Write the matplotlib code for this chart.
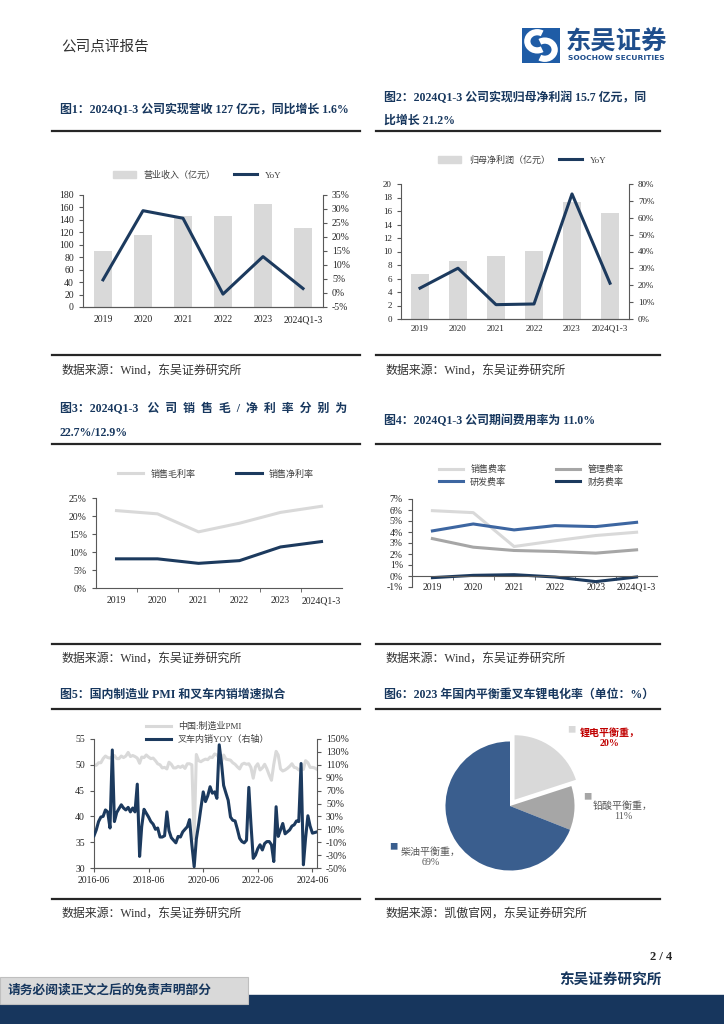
import numpy as np
import pandas as pd
import matplotlib.pyplot as plt
import matplotlib.dates as mdates
from matplotlib.patches import Rectangle, Arc
from matplotlib.lines import Line2D
from matplotlib.ticker import FuncFormatter

plt.rcParams['font.family'] = ['Liberation Serif', 'Noto Sans CJK SC']
plt.rcParams['axes.unicode_minus'] = False

# ---------------- data ----------------
years = ['2019', '2020', '2021', '2022', '2023', '2024Q1-3']
revenue = [90.5, 116, 147, 146, 165, 127]             # 营业收入(亿元)
revenue_yoy = [4.7, 29.4, 26.7, -0.4, 13.0, 1.6]      # %
profit = [6.65, 8.6, 9.3, 10.1, 17.3, 15.7]           # 归母净利润(亿元)
profit_yoy = [18.3, 30.1, 8.5, 8.9, 74.1, 21.2]       # %
gross_margin = [21.5, 20.6, 15.6, 18.0, 21.0, 22.7]
net_margin = [8.1, 8.1, 6.85, 7.6, 11.4, 12.9]
sales_exp = [5.94, 5.76, 2.68, 3.2, 3.68, 3.98]
admin_exp = [3.4, 2.62, 2.32, 2.23, 2.08, 2.38]
rd_exp = [4.1, 4.73, 4.19, 4.58, 4.49, 4.88]
fin_exp = [-0.15, 0.06, 0.12, -0.09, -0.51, -0.09]

month_start = '2016-06-01'
pmi = [50.0, 49.9, 50.4, 50.4, 51.2, 51.7, 51.4,
       51.3, 51.6, 51.8, 51.2, 51.2, 51.7, 51.4, 51.7, 52.4, 51.6, 51.8, 51.6,
       51.3, 50.3, 51.5, 51.4, 51.9, 51.5, 51.2, 51.3, 50.8, 50.2, 50.0, 49.4,
       49.5, 49.2, 50.5, 50.1, 49.4, 49.4, 49.7, 49.5, 49.8, 49.3, 50.2, 50.2,
       50.0, 35.7, 52.0, 50.8, 50.6, 50.9, 51.1, 51.0, 51.5, 51.4, 52.1, 51.9,
       51.3, 50.6, 51.9, 51.1, 51.0, 50.9, 50.4, 50.1, 49.6, 49.2, 50.1, 50.3,
       50.1, 50.2, 49.5, 47.4, 49.6, 50.2, 49.0, 49.4, 50.1, 49.2, 48.0, 47.0,
       50.1, 52.6, 51.9, 49.2, 48.8, 49.0, 49.3, 49.7, 50.2, 49.5, 49.4, 49.0,
       49.2, 49.1, 50.8, 50.4, 49.5, 49.5, 49.4, 49.1]
forklift_yoy = [0, 9, 22, 29, 30, 40, 37,
                12, 133, 22, 36, 42, 48, 43, 40, 44, 37, 43, 37,
                80, -32, 14, 41, 35, 29, 22, 18, 10, 12, -2, -2,
                0, 37, 8, -3, -7, -11, -1, -2, 6, 10, 14, 25,
                -14, -48, -5, 18, 43, 68, 53, 62, 76, 66, 68, 58,
                141, 112, 78, 66, 55, 29, 24, 23, 10, -4, -9, -11,
                -7, 75, 19, -35, -30, -20, -14, -22, -12, -9, -9, -14,
                -40, 45, -1, 9, 19, 3, 6, 9, 15, 17, 23, 22,
                112, -45, -4, 31, 15, 4, 5, 6]

pie_labels = ['锂电平衡重', '铅酸平衡重', '柴油平衡重']
pie_shares = [20, 11, 69]

# ---------------- style ----------------
NAVY = '#1c3a5e'
LIGHT = '#d9d9d9'
MID = '#a6a6a6'
BLUE = '#3d66a1'
PIE_BLUE = '#3a5e8e'
TITLE_C = '#17375e'
AX_C = '#595959'
TXT_C = '#262626'

W, H = 724, 1024
fig = plt.figure(figsize=(7.24, 10.24), dpi=100)
fig.patch.set_facecolor('white')


def fx(x):
    return x / W


def fy(y):
    return 1 - y / H


def px_axes(x0, y0, x1, y1):
    return fig.add_axes([x0 / W, 1 - y1 / H, (x1 - x0) / W, (y1 - y0) / H])


pct = FuncFormatter(lambda v, p: f'{v:.0f}%')


def base_style(ax):
    for s in ax.spines.values():
        s.set_color(AX_C)
        s.set_linewidth(0.8)
    ax.spines['top'].set_visible(False)
    ax.tick_params(colors=AX_C, labelcolor=TXT_C, labelsize=7, length=3, width=0.8)
    ax.patch.set_alpha(0)


def hline(x0, x1, y):
    fig.add_artist(Line2D([fx(x0), fx(x1)], [fy(y), fy(y)], color='#262626', lw=1.6))


# ---------------- header ----------------
fig.text(fx(61), fy(47), '公司点评报告', fontsize=10.5, color='#333333', va='center')

axl = px_axes(522, 28, 560, 63)
axl.add_patch(Rectangle((0, 0), 1, 1, color='#1f5ca6'))
axl.add_patch(Arc((0.40, 0.62), 0.52, 0.52, theta1=60, theta2=300, lw=4.5, color='white'))
axl.add_patch(Arc((0.60, 0.38), 0.52, 0.52, theta1=240, theta2=120, lw=4.5, color='white'))
axl.set_xlim(0, 1)
axl.set_ylim(0, 1)
axl.axis('off')
fig.text(fx(566), fy(42), '东吴证券', fontsize=18.3, color='#1f4e8c', fontweight='bold',
         family=['Noto Sans CJK SC'], va='center')
fig.text(fx(568), fy(58), 'SOOCHOW SECURITIES', fontsize=5.4, color='#1f4e8c',
         fontweight='bold', family=['DejaVu Sans'], va='center')

# ---------------- titles / rules ----------------
tkw = dict(fontsize=8.6, color=TITLE_C, fontweight='bold', va='center')
fig.text(fx(60), fy(110), '图1：2024Q1-3 公司实现营收 127 亿元，同比增长 1.6%', **tkw)
fig.text(fx(384), fy(98), '图2：2024Q1-3 公司实现归母净利润 15.7 亿元，同', **tkw)
fig.text(fx(384), fy(121), '比增长 21.2%', **tkw)
fig.text(fx(60), fy(409),
         '图3：2024Q1-3   公  司  销  售  毛  /  净  利  率  分  别  为', **tkw)
fig.text(fx(60), fy(433), '22.7%/12.9%', **tkw)
fig.text(fx(384), fy(421), '图4：2024Q1-3 公司期间费用率为 11.0%', **tkw)
fig.text(fx(60), fy(695), '图5：国内制造业 PMI 和叉车内销增速拟合', **tkw)
fig.text(fx(384), fy(695), '图6：2023 年国内平衡重叉车锂电化率（单位：%）', **tkw)

for y in (131, 444, 709):
    hline(52, 360, y)
    hline(376, 660, y)
for y in (355, 644, 899):
    hline(52, 360, y)
    hline(376, 660, y)

skw = dict(fontsize=8.6, color='#333333', va='center')
fig.text(fx(62), fy(371), '数据来源：Wind，东吴证券研究所', **skw)
fig.text(fx(386), fy(371), '数据来源：Wind，东吴证券研究所', **skw)
fig.text(fx(62), fy(659), '数据来源：Wind，东吴证券研究所', **skw)
fig.text(fx(386), fy(659), '数据来源：Wind，东吴证券研究所', **skw)
fig.text(fx(62), fy(914), '数据来源：Wind，东吴证券研究所', **skw)
fig.text(fx(386), fy(914), '数据来源：凯傲官网，东吴证券研究所', **skw)

x = np.arange(len(years))

# ---------------- chart 1 ----------------
ax1 = px_axes(83, 195, 323, 307)
base_style(ax1)
ax1.bar(x, revenue, width=0.46, color=LIGHT)
ax1.set_xlim(-0.5, 5.5)
ax1.set_ylim(0, 180)
ax1.set_yticks(range(0, 181, 20))
ax1.set_xticks(x, years)
ax1.tick_params(axis='x', length=0, pad=6)
ax1.spines['right'].set_visible(False)
ax1b = ax1.twinx()
base_style(ax1b)
ax1b.spines['left'].set_visible(False)
ax1b.plot(x, revenue_yoy, color=NAVY, lw=2.2)
ax1b.set_ylim(-5, 35)
ax1b.set_yticks(range(-5, 36, 5))
ax1b.yaxis.set_major_formatter(pct)
fig.legend([Rectangle((0, 0), 1, 1, color=LIGHT), Line2D([], [], color=NAVY, lw=2.2)],
           ['营业收入（亿元）', 'YoY'], loc='center', bbox_to_anchor=(fx(197), fy(175)),
           ncol=2, frameon=False, fontsize=6.5, handlelength=2.6, handleheight=0.8,
           columnspacing=2.0, labelcolor='#404040')

# ---------------- chart 2 ----------------
ax2 = px_axes(401, 184, 629, 319)
base_style(ax2)
ax2.bar(x, profit, width=0.46, color=LIGHT)
ax2.set_xlim(-0.5, 5.5)
ax2.set_ylim(0, 20)
ax2.set_yticks(range(0, 21, 2))
ax2.set_xticks(x, years)
ax2.tick_params(axis='x', length=0, pad=4, labelsize=6.5)
ax2.spines['right'].set_visible(False)
ax2b = ax2.twinx()
base_style(ax2b)
ax2b.spines['left'].set_visible(False)
ax2b.plot(x, profit_yoy, color=NAVY, lw=2.2)
ax2b.set_ylim(0, 80)
ax2b.set_yticks(range(0, 81, 10))
ax2b.yaxis.set_major_formatter(pct)
ax2.tick_params(axis='y', labelsize=6.5)
ax2b.tick_params(axis='y', labelsize=6.5)
fig.legend([Rectangle((0, 0), 1, 1, color=LIGHT), Line2D([], [], color=NAVY, lw=2.2)],
           ['归母净利润（亿元）', 'YoY'], loc='center', bbox_to_anchor=(fx(522), fy(160)),
           ncol=2, frameon=False, fontsize=6.5, handlelength=2.6, handleheight=0.8,
           columnspacing=1.0, labelcolor='#404040')

# ---------------- chart 3 ----------------
ax3 = px_axes(96, 498, 342, 588)
base_style(ax3)
ax3.spines['right'].set_visible(False)
ax3.plot(x, gross_margin, color=LIGHT, lw=2.2, label='销售毛利率')
ax3.plot(x, net_margin, color=NAVY, lw=2.2, label='销售净利率')
ax3.set_xlim(-0.5, 5.5)
ax3.set_ylim(0, 25)
ax3.set_yticks(range(0, 26, 5))
ax3.yaxis.set_major_formatter(pct)
ax3.set_xticks(x, years)
ax3.set_xticks(np.arange(0.5, 5, 1), minor=True)
ax3.tick_params(axis='x', which='major', length=0, pad=6)
ax3.tick_params(axis='x', which='minor', length=3, color=AX_C)
fig.legend(*ax3.get_legend_handles_labels(), loc='center', bbox_to_anchor=(fx(216), fy(474)),
           ncol=2, frameon=False, fontsize=6.5, handlelength=2.8, columnspacing=4.5,
           labelcolor='#404040')

# ---------------- chart 4 ----------------
ax4 = px_axes(412, 499, 657, 587)
base_style(ax4)
ax4.spines['right'].set_visible(False)
ax4.plot(x, sales_exp, color=LIGHT, lw=2.2, label='销售费率')
ax4.plot(x, rd_exp, color=BLUE, lw=2.2, label='研发费率')
ax4.plot(x, admin_exp, color=MID, lw=2.2, label='管理费率')
ax4.plot(x, fin_exp, color=NAVY, lw=2.2, label='财务费率')
ax4.set_xlim(-0.5, 5.5)
ax4.set_ylim(-1, 7)
ax4.set_yticks(range(-1, 8))
ax4.yaxis.set_major_formatter(pct)
ax4.spines['bottom'].set_position(('data', 0))
ax4.set_xticks(x, years)
ax4.set_xticks(np.arange(0.5, 5, 1), minor=True)
ax4.tick_params(axis='x', which='major', length=0, pad=5)
ax4.tick_params(axis='x', which='minor', length=3, color=AX_C)
fig.legend(*ax4.get_legend_handles_labels(), loc='center', bbox_to_anchor=(fx(531), fy(476)),
           ncol=2, frameon=False, fontsize=6.5, handlelength=2.7, columnspacing=5.5,
           labelspacing=0.35, labelcolor='#404040')

# ---------------- chart 5 ----------------
dates = pd.date_range(start=month_start, periods=len(pmi), freq='MS')
ax5 = px_axes(94, 739, 317, 868)
base_style(ax5)
ax5.spines['right'].set_visible(False)
l1, = ax5.plot(dates, pmi, color=LIGHT, lw=2.2, label='中国:制造业PMI')
ax5.set_ylim(30, 55)
ax5.set_yticks(range(30, 56, 5))
ax5.set_xlim(dates[0], dates[-1])
ax5.xaxis.set_major_locator(mdates.YearLocator(base=2, month=6, day=1))
ax5.xaxis.set_major_formatter(mdates.DateFormatter('%Y-%m'))
ax5.tick_params(axis='x', pad=3)
ax5b = ax5.twinx()
base_style(ax5b)
ax5b.spines['left'].set_visible(False)
l2, = ax5b.plot(dates, forklift_yoy, color=NAVY, lw=2.2, label='叉车内销YOY（右轴）')
ax5b.set_ylim(-50, 150)
ax5b.set_yticks(range(-50, 151, 20))
ax5b.yaxis.set_major_formatter(pct)
fig.legend([l1, l2], [l1.get_label(), l2.get_label()], loc='upper left',
           bbox_to_anchor=(fx(138), fy(714)), ncol=1, frameon=False, fontsize=6.5,
           handlelength=2.7, labelspacing=0.4, labelcolor='#404040')

# ---------------- chart 6 ----------------
pie_colors = [LIGHT, MID, PIE_BLUE]
ax6 = px_axes(430, 726, 590, 886)
ax6.pie(pie_shares, colors=pie_colors, startangle=90, counterclock=False,
        explode=[0.12, 0, 0], radius=1)
ax6.set_xlim(-1.24, 1.24)
ax6.set_ylim(-1.24, 1.24)
label_pos = [(610, 738, 571, 730), (623, 811, 587, 797), (431, 857, 393, 847)]
label_col = ['#c00000', '#595959', '#595959']
for name, share, col, tcol, (tx, ty, sx, sy) in zip(pie_labels, pie_shares, pie_colors,
                                                    label_col, label_pos):
    fig.text(fx(sx), fy(sy), '■', color=col, fontsize=6, ha='center', va='center',
             family=['Noto Sans CJK SC'])
    fig.text(fx(tx), fy(ty), f'{name}，\n{share}%', color=tcol, fontsize=7.2, ha='center',
             va='center', linespacing=1.25,
             fontweight='bold' if tcol == '#c00000' else 'normal')

# ---------------- footer ----------------
fig.text(fx(672), fy(957), '2 / 4', fontsize=9, fontweight='bold', ha='right', va='center',
         color='#262626')
fig.text(fx(662), fy(981), '东吴证券研究所', fontsize=10.5, fontweight='bold', ha='right',
         va='center', color=TITLE_C)
fig.add_artist(Rectangle((0, 0), 1, fy(995), transform=fig.transFigure, color='#17365d'))
fig.add_artist(Rectangle((0, fy(1004)), fx(248), fy(977) - fy(1004), transform=fig.transFigure,
                         facecolor='#d9d9d9', edgecolor='#bfbfbf', lw=0.8))
fig.text(fx(8), fy(990), '请务必阅读正文之后的免责声明部分', fontsize=9.2, fontweight='bold',
         va='center', color=TITLE_C)

fig.savefig('out.png', dpi=100, facecolor='white')
